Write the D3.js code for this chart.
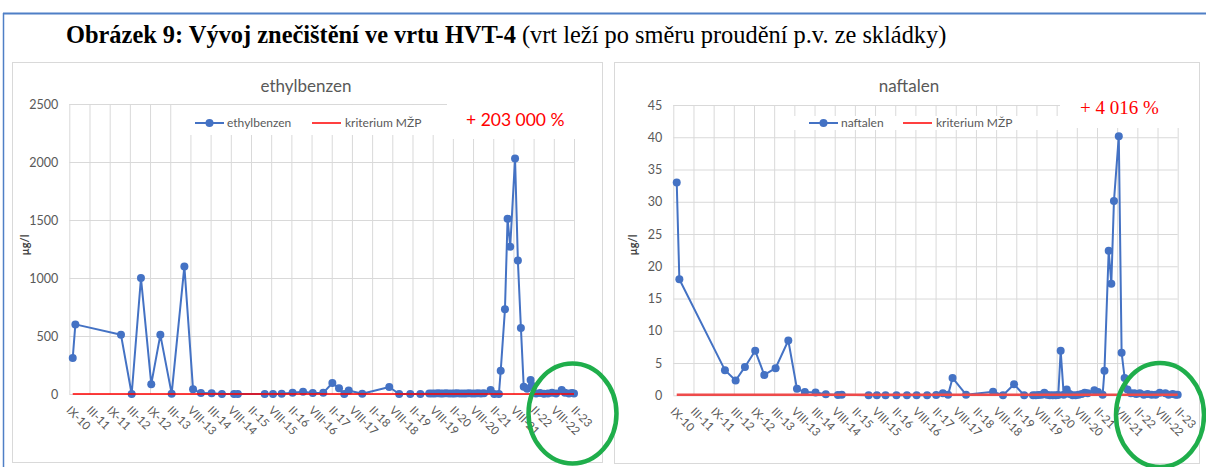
<!DOCTYPE html>
<html>
<head>
<meta charset="utf-8">
<script src="https://cdn.jsdelivr.net/npm/d3@7"></script>
<style>
  body { margin: 0; background: #fff; }
  svg { display: block; }
</style>
</head>
<body>
<div id="figure"></div>
<script>
const tickLabels = ['IX-10', 'III-11', 'IX-11', 'III-12', 'IX-12', 'III-13', 'VIII-13', 'III-14', 'VIII-14',
    'II-15', 'VIII-15', 'II-16', 'VIII-16', 'II-17', 'VIII-17', 'II-18', 'VIII-18', 'II-19', 'VIII-19',
    'II-20', 'VIII-20', 'II-21', 'VIII-21', 'II-22', 'VIII-22', 'II-23'];

// sampling dates, measured in axis ticks (0 = IX-10, 25 = II-23)
const sampleTimes = [
    0.17, 0.30, 2.56, 3.09, 3.55, 4.06, 4.51, 5.07, 5.70, 6.13,
    6.52, 7.05, 7.56, 8.16, 8.35, 9.68, 10.09, 10.52, 11.06, 11.58,
    12.06, 12.58, 13.03, 13.36, 13.62, 13.84, 14.51, 15.85, 16.34, 16.89,
    17.39, 17.83, 17.97, 18.11, 18.26, 18.39, 18.51, 18.66, 18.81, 18.96,
    19.08, 19.20, 19.35, 19.50, 19.64, 19.79, 19.94, 20.09, 20.24, 20.39,
    20.54, 20.87, 21.05, 21.28, 21.37, 21.58, 21.71, 21.84, 22.08, 22.22,
    22.37, 22.51, 22.68, 22.85, 22.95, 23.12, 23.32, 23.51, 23.71, 23.91,
    24.11, 24.39, 24.55, 24.75, 24.90, 25.00
];

// µg/l
const ethylbenzen = [
    310, 600, 510, 0, 1000, 85, 510, 3, 1100, 40,
    8, 6, 0, 0, 0, 0, 0, 3, 10, 20,
    8, 10, 95, 50, 0, 30, 2, 60, 0, 0,
    0, 5, 4, 5, 6, 4, 5, 6, 4, 5,
    5, 6, 4, 5, 5, 6, 4, 5, 6, 5,
    6, 35, 0, 0, 200, 730, 1510, 1270, 2030, 1150,
    570, 63, 46, 120, 70, 5, 8, 3, 5, 10,
    5, 35, 10, 5, 8, 5
];

const naftalen = [
    33, 18, 3.9, 2.3, 4.4, 6.9, 3.15, 4.2, 8.5, 1.0,
    0.5, 0.45, 0.15, 0.05, 0.1, 0, 0, 0, 0, 0,
    0, 0, 0.05, 0.3, 0.1, 2.7, 0.1, 0.55, 0, 1.7,
    0, 0, 0, 0.05, 0.1, 0.4, 0.1, 0, 0, 0,
    0.05, 6.9, 0.1, 0.9, 0.2, 0, 0, 0.1, 0.2, 0.4,
    0.3, 0.8, 0.5, 0.1, 3.8, 22.4, 17.3, 30.1, 40.15, 6.6,
    2.7, 0.9, 0.3, 0.3, 0.2, 0.3, 0.1, 0.2, 0.1, 0.1,
    0.4, 0.3, 0.1, 0.2, 0.1, 0.1
];

const kriteriumEthylbenzen = 1;
const kriteriumNaftalen = 0.1;

const blue = '#4472c4';
const grey = '#595959';
const chartFont = 'Lato, "Open Sans", sans-serif';

const svg = d3.select('#figure').append('svg')
    .attr('width', 1206)
    .attr('height', 467);

// document frame
svg.append('line')
    .attr('x1', 3).attr('y1', 13.5).attr('x2', 1206).attr('y2', 13.5)
    .attr('stroke', '#4f7fc6').attr('stroke-width', 2);
svg.append('line')
    .attr('x1', 3.5).attr('y1', 13).attr('x2', 3.5).attr('y2', 467)
    .attr('stroke', '#4f7fc6').attr('stroke-width', 1.5);

const heading = svg.append('text')
    .attr('x', 66)
    .attr('y', 43)
    .attr('font-family', '"Liberation Serif", "Times New Roman", serif')
    .attr('font-size', 24.4)
    .attr('fill', '#000');
heading.append('tspan').attr('font-weight', 'bold').text('Obrázek 9: Vývoj znečištění ve vrtu HVT-4');
heading.append('tspan').text(' (vrt leží po směru proudění p.v. ze skládky)');

function drawChart(opts) {
    const g = svg.append('g');

    g.append('rect')
        .attr('x', opts.box[0] + 0.5)
        .attr('y', opts.box[1] + 0.5)
        .attr('width', opts.box[2])
        .attr('height', opts.box[3])
        .attr('fill', '#fff')
        .attr('stroke', '#d9d9d9');

    const x = d3.scaleLinear()
        .domain([0, tickLabels.length - 1])
        .range([opts.left, opts.right]);
    const y = d3.scaleLinear()
        .domain([0, opts.yMax])
        .range([opts.bottom, opts.top]);

    const yAxis = g.append('g')
        .attr('transform', `translate(${opts.left},0)`)
        .call(d3.axisLeft(y)
            .tickValues(d3.range(0, opts.yMax + opts.yStep / 2, opts.yStep))
            .tickFormat(d3.format('d'))
            .tickSize(-(opts.right - opts.left))
            .tickPadding(11));
    yAxis.select('.domain').remove();
    yAxis.selectAll('line').attr('stroke', '#d9d9d9');
    yAxis.selectAll('text')
        .attr('fill', grey)
        .attr('font-family', chartFont)
        .attr('font-size', 12.5);

    const xAxis = g.append('g')
        .attr('transform', `translate(0,${opts.bottom})`)
        .call(d3.axisBottom(x)
            .tickValues(d3.range(tickLabels.length))
            .tickFormat(i => tickLabels[i])
            .tickSize(-(opts.bottom - opts.top)));
    xAxis.select('.domain').remove();
    xAxis.selectAll('line').attr('stroke', '#d9d9d9');
    xAxis.selectAll('text')
        .attr('x', 0)
        .attr('y', 0)
        .attr('dy', null)
        .attr('text-anchor', 'start')
        .attr('transform', 'translate(-4,17) rotate(45)')
        .attr('fill', grey)
        .attr('font-family', chartFont)
        .attr('font-size', 11.5);

    g.append('text')
        .attr('transform', `translate(${opts.yTitleX},245) rotate(-90)`)
        .attr('text-anchor', 'middle')
        .attr('fill', '#404040')
        .attr('font-family', chartFont)
        .attr('font-size', 11)
        .attr('font-weight', 'bold')
        .text('µg/l');

    g.append('text')
        .attr('x', opts.titleX)
        .attr('y', 92)
        .attr('text-anchor', 'middle')
        .attr('fill', grey)
        .attr('font-family', chartFont)
        .attr('font-size', 17)
        .text(opts.name);

    // legend and annotation sit on white boxes over the grid
    g.append('rect')
        .attr('x', opts.legendBox[0]).attr('y', opts.legendBox[1])
        .attr('width', opts.legendBox[2]).attr('height', opts.legendBox[3])
        .attr('fill', '#fff');
    g.append('rect')
        .attr('x', opts.noteBox[0]).attr('y', opts.noteBox[1])
        .attr('width', opts.noteBox[2]).attr('height', opts.noteBox[3])
        .attr('fill', '#fff');

    const lx = opts.legendX;
    g.append('line')
        .attr('x1', lx).attr('x2', lx + 29).attr('y1', 123).attr('y2', 123)
        .attr('stroke', blue).attr('stroke-width', 2);
    g.append('circle')
        .attr('cx', lx + 14.5).attr('cy', 123).attr('r', 4)
        .attr('fill', blue);
    g.append('text')
        .attr('x', lx + 32).attr('y', 127)
        .attr('fill', grey)
        .attr('font-family', chartFont)
        .attr('font-size', 12)
        .text(opts.name);
    g.append('line')
        .attr('x1', opts.legendX2).attr('x2', opts.legendX2 + 29).attr('y1', 123).attr('y2', 123)
        .attr('stroke', 'red').attr('stroke-width', 1.5);
    g.append('text')
        .attr('x', opts.legendX2 + 33).attr('y', 127)
        .attr('fill', grey)
        .attr('font-family', chartFont)
        .attr('font-size', 12)
        .text('kriterium MŽP');

    g.append('text')
        .attr('x', opts.noteX)
        .attr('y', opts.noteY)
        .attr('fill', 'red')
        .attr('font-family', opts.noteFont)
        .attr('font-size', opts.noteSize)
        .text(opts.note);

    const points = sampleTimes.map((t, i) => ({ t: t, v: opts.values[i] }));

    const line = d3.line()
        .x(d => x(d.t))
        .y(d => y(d.v));

    g.append('path')
        .datum(points)
        .attr('d', line)
        .attr('fill', 'none')
        .attr('stroke', blue)
        .attr('stroke-width', 2)
        .attr('stroke-linejoin', 'round');

    g.append('g').selectAll('circle')
        .data(points)
        .join('circle')
        .attr('cx', d => x(d.t))
        .attr('cy', d => y(d.v))
        .attr('r', 4)
        .attr('fill', blue);

    // criterion line drawn over the series, over the whole sampled period
    const first = sampleTimes[0];
    const last = sampleTimes[sampleTimes.length - 1];
    g.append('line')
        .attr('x1', x(first)).attr('x2', x(last))
        .attr('y1', y(opts.limit)).attr('y2', y(opts.limit))
        .attr('stroke', opts.limitColor)
        .attr('stroke-width', opts.limitWidth);
}

drawChart({
    name: 'ethylbenzen',
    values: ethylbenzen,
    limit: kriteriumEthylbenzen,
    yMax: 2500,
    yStep: 500,
    box: [12, 62, 590, 400],
    left: 69.3, right: 574, top: 104, bottom: 394,
    titleX: 306,
    yTitleX: 29,
    legendBox: [186, 105, 261, 30],
    legendX: 195,
    legendX2: 312,
    noteBox: [447, 99, 133, 40],
    note: '+ 203 000 %',
    noteX: 466,
    noteY: 126,
    noteFont: chartFont,
    noteSize: 17.5,
    limitColor: '#ff0000',
    limitWidth: 1.5
});

drawChart({
    name: 'naftalen',
    values: naftalen,
    limit: kriteriumNaftalen,
    yMax: 45,
    yStep: 5,
    box: [614, 62, 585, 401],
    left: 673.3, right: 1177.7, top: 105, bottom: 395.3,
    titleX: 909,
    yTitleX: 637,
    legendBox: [792, 116, 268, 14],
    legendX: 809,
    legendX2: 903,
    noteBox: [1060, 99, 122, 29],
    note: '+ 4 016 %',
    noteX: 1080,
    noteY: 114,
    noteFont: '"Liberation Serif", "Times New Roman", serif',
    noteSize: 19,
    limitColor: '#ee4b4b',
    limitWidth: 2.5
});

// highlighted recent period
svg.append('ellipse')
    .attr('cx', 572.5).attr('cy', 413.5).attr('rx', 44).attr('ry', 50)
    .attr('fill', 'none').attr('stroke', '#1fae4b').attr('stroke-width', 4.5);
svg.append('ellipse')
    .attr('cx', 1160).attr('cy', 415).attr('rx', 44).attr('ry', 52)
    .attr('fill', 'none').attr('stroke', '#1fae4b').attr('stroke-width', 4.5);
</script>
</body>
</html>
